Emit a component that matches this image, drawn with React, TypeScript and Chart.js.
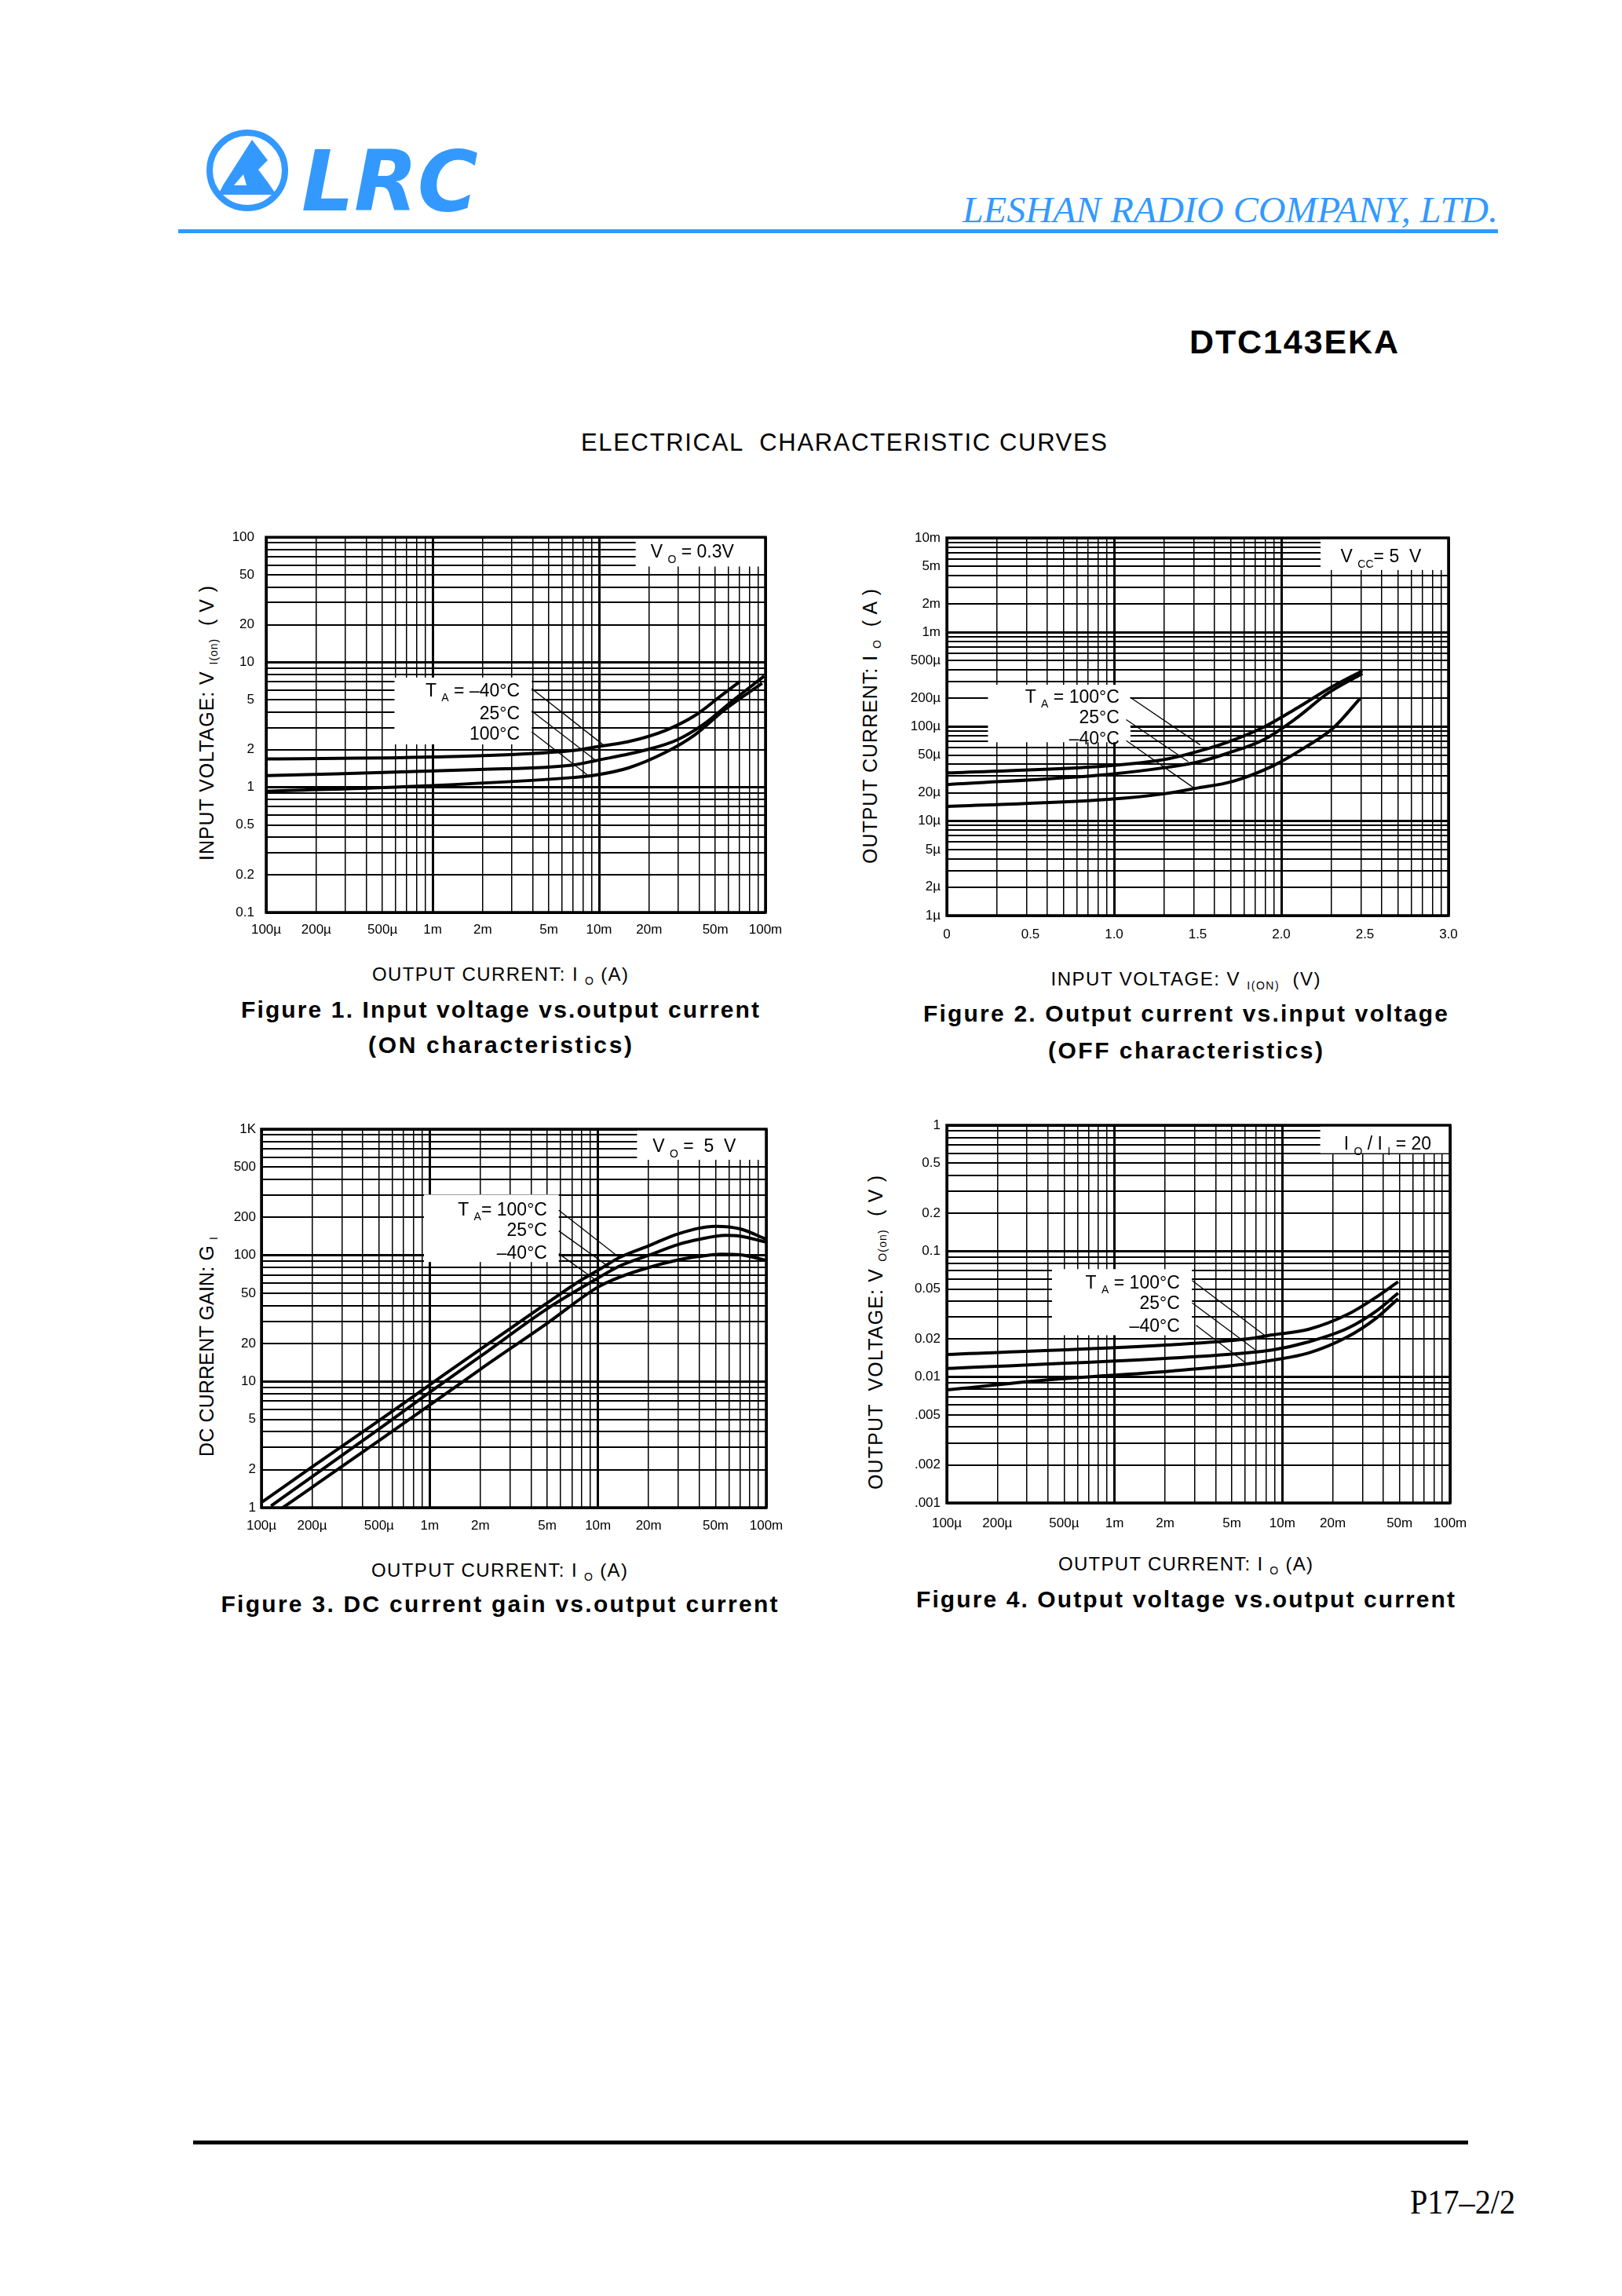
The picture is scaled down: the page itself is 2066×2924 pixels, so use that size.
import React, { useEffect, useRef } from 'react';
import { Chart, registerables } from 'chart.js';

Chart.register(...registerables);

const SANS = "'Liberation Sans', Arial, Helvetica, sans-serif";
const SERIF = "'Liberation Serif', 'Times New Roman', serif";
const BLUE = '#3399ff';

// ---------- shared tick labels ----------
const IO_TICK_VALUES = [1e-4, 2e-4, 5e-4, 1e-3, 2e-3, 5e-3, 1e-2, 2e-2, 5e-2, 1e-1];
const IO_TICK_LABELS = ['100µ', '200µ', '500µ', '1m', '2m', '5m', '10m', '20m', '50m', '100m'];

// ---------- Figure 1: input voltage vs output current ----------
const F1_Y_TICK_VALUES = [0.1, 0.2, 0.5, 1, 2, 5, 10, 20, 50, 100];
const F1_Y_TICK_LABELS = ['0.1', '0.2', '0.5', '1', '2', '5', '10', '20', '50', '100'];
const F1_M40_IO = [1e-4, 1e-3, 7e-3, 1.05e-2, 1.5e-2, 2.5e-2, 3.8e-2, 5.4e-2, 7e-2];
const F1_M40_VI = [1.69, 1.75, 1.97, 2.15, 2.32, 2.85, 3.78, 5.4, 7.0];
const F1_25_IO = [1e-4, 1.9e-3, 7e-3, 9.4e-3, 1.94e-2, 2.93e-2, 4.2e-2, 6.3e-2, 9.8e-2];
const F1_25_VI = [1.24, 1.39, 1.51, 1.63, 2.0, 2.39, 3.16, 4.89, 7.74];
const F1_100_IO = [1e-4, 9.3e-4, 7e-3, 9.4e-3, 1.5e-2, 2.5e-2, 3.78e-2, 5.7e-2, 9.55e-2];
const F1_100_VI = [0.93, 1.03, 1.2, 1.25, 1.43, 1.9, 2.64, 4.19, 6.8];
const F1_LEAD_X = [[3.94e-3, 1.05e-2], [3.94e-3, 9.4e-3], [3.94e-3, 8.5e-3]];
const F1_LEAD_Y = [[6.15, 2.21], [4.08, 1.67], [2.78, 1.26]];

// ---------- Figure 2: output current vs input voltage ----------
const F2_X_TICK_VALUES = [0, 0.5, 1.0, 1.5, 2.0, 2.5, 3.0];
const F2_X_TICK_LABELS = ['0', '0.5', '1.0', '1.5', '2.0', '2.5', '3.0'];
const F2_Y_TICK_VALUES = [1e-6, 2e-6, 5e-6, 1e-5, 2e-5, 5e-5, 1e-4, 2e-4, 5e-4, 1e-3, 2e-3, 5e-3, 1e-2];
const F2_Y_TICK_LABELS = ['1µ', '2µ', '5µ', '10µ', '20µ', '50µ', '100µ', '200µ', '500µ', '1m', '2m', '5m', '10m'];
const F2_100_VI = [0, 0.965, 1.32, 1.49, 1.68, 1.9, 2.09, 2.28, 2.485];
const F2_100_IO = [3.24e-5, 3.85e-5, 4.56e-5, 5.41e-5, 6.87e-5, 1.0e-4, 1.56e-4, 2.51e-4, 3.92e-4];
const F2_25_VI = [0, 0.965, 1.32, 1.49, 1.68, 1.9, 2.09, 2.28, 2.485];
const F2_25_IO = [2.44e-5, 3.13e-5, 3.72e-5, 4.18e-5, 5.24e-5, 7.37e-5, 1.23e-4, 2.27e-4, 3.66e-4];
const F2_M40_VI = [0, 0.965, 1.3, 1.49, 1.71, 1.95, 2.14, 2.31, 2.47];
const F2_M40_IO = [1.43e-5, 1.7e-5, 1.95e-5, 2.23e-5, 2.64e-5, 3.85e-5, 6.0e-5, 9.66e-5, 1.98e-4];
const F2_LEAD_X = [[1.096, 1.515], [1.073, 1.444], [1.073, 1.48]];
const F2_LEAD_Y = [[2.05e-4, 6.42e-5], [1.19e-4, 4.26e-5], [7.11e-5, 2.23e-5]];

// ---------- Figure 3: DC current gain vs output current ----------
const F3_Y_TICK_VALUES = [1, 2, 5, 10, 20, 50, 100, 200, 500, 1000];
const F3_Y_TICK_LABELS = ['1', '2', '5', '10', '20', '50', '100', '200', '500', '1K'];
const F3_100_IO = [1e-4, 2e-4, 5e-4, 1e-3, 2e-3, 5e-3, 8e-3, 1e-2, 1.34e-2, 2e-2, 3e-2, 5e-2, 7e-2, 1e-1];
const F3_100_GI = [1.1, 2.1, 4.9, 9.4, 18, 42, 64, 76, 96, 119, 148, 170, 162, 134];
const F3_25_IO = [1.14e-4, 2e-4, 5e-4, 1e-3, 2e-3, 5e-3, 1e-2, 1.34e-2, 2e-2, 3e-2, 4e-2, 5.7e-2, 7e-2, 1e-1];
const F3_25_GI = [1.03, 1.76, 4.2, 8.2, 15.8, 37.8, 66, 82, 100, 122, 134, 144, 142, 127];
const F3_M40_IO = [1.34e-4, 2e-4, 5e-4, 1e-3, 2e-3, 5e-3, 1e-2, 1.34e-2, 2e-2, 3e-2, 4e-2, 5.4e-2, 7e-2, 1e-1];
const F3_M40_GI = [1.0, 1.45, 3.4, 6.5, 12.5, 29, 56, 67, 80, 92, 98, 102, 101, 91];
const F3_LEAD_X = [[5.85e-3, 1.34e-2], [5.85e-3, 1.24e-2], [5.85e-3, 1.08e-2]];
const F3_LEAD_Y = [[228, 96], [156, 76], [103, 57.5]];

// ---------- Figure 4: output voltage vs output current ----------
const F4_Y_TICK_VALUES = [0.001, 0.002, 0.005, 0.01, 0.02, 0.05, 0.1, 0.2, 0.5, 1];
const F4_Y_TICK_LABELS = ['.001', '.002', '.005', '0.01', '0.02', '0.05', '0.1', '0.2', '0.5', '1'];
const F4_100_IO = [1e-4, 2.08e-3, 6.25e-3, 8.7e-3, 1.43e-2, 2.47e-2, 3.62e-2, 4.9e-2];
const F4_100_VO = [0.0151, 0.018, 0.0201, 0.0216, 0.0239, 0.0316, 0.043, 0.057];
const F4_25_IO = [1e-4, 2.08e-3, 5.9e-3, 8.7e-3, 1.43e-2, 2.47e-2, 3.62e-2, 4.9e-2];
const F4_25_VO = [0.0117, 0.0141, 0.0155, 0.0164, 0.019, 0.0245, 0.0333, 0.0464];
const F4_M40_IO = [1e-4, 4e-4, 2.08e-3, 5.9e-3, 8.7e-3, 1.43e-2, 2.47e-2, 3.62e-2, 4.9e-2];
const F4_M40_VO = [0.0079, 0.0095, 0.0111, 0.0126, 0.0136, 0.0155, 0.021, 0.0293, 0.0419];
const F4_LEAD_X = [[2.9e-3, 8.0e-3], [2.9e-3, 6.97e-3], [3.06e-3, 6.08e-3]];
const F4_LEAD_Y = [[0.0585, 0.021], [0.0388, 0.01626], [0.0258, 0.0129]];

// ---------- helpers ----------
type AxisSpec = {
  type: 'logarithmic' | 'linear';
  min: number;
  max: number;
  grid: number[];
  labelValues: number[];
  labels: string[];
  minorWidth: number;
  isMajor: (v: number) => boolean;
};

type Part = [string, boolean];
type Note = { fx: number; fy: number; align: 'left' | 'right'; parts: Part[] };

type Panel = {
  box: [number, number, number, number];
  x: AxisSpec;
  y: AxisSpec;
  xGap: number;
  yGap: number;
  curves: { x: number[]; y: number[] }[];
  leaders: { x: number[]; y: number[] }[];
  boxes: number[][];
  notes: Note[];
};

const Y_W = 90;
const PAD_T = 22;
const PAD_R = 48;
const X_H = 50;

const near = (a: number, b: number) => Math.abs(a - b) <= 1e-9 + Math.abs(b) * 1e-6;
const inList = (list: number[], v: number) => list.some((t) => near(v, t));
const isDecade = (v: number) => {
  const l = Math.log10(v);
  return Math.abs(l - Math.round(l)) < 1e-6;
};
const isInteger = (v: number) => Math.abs(v - Math.round(v)) < 1e-6;

function logGrid(min: number, max: number) {
  const out: number[] = [];
  const e0 = Math.floor(Math.log10(min) + 1e-9);
  const e1 = Math.ceil(Math.log10(max) - 1e-9);
  for (let e = e0; e <= e1; e++) {
    for (let k = 1; k < 10; k++) {
      const v = k * Math.pow(10, e);
      if (v >= min * (1 - 1e-9) && v <= max * (1 + 1e-9)) out.push(v);
    }
  }
  return out;
}

// graph-paper grid used under figure 2's linear voltage axis
function paperGrid(decades: number) {
  const out: number[] = [0];
  for (let d = 0; d < decades; d++) {
    for (let k = 2; k <= 10; k++) out.push(d + Math.log10(k));
  }
  return out;
}

function logAxis(min: number, max: number, labelValues: number[], labels: string[], minorWidth: number): AxisSpec {
  return { type: 'logarithmic', min, max, grid: logGrid(min, max), labelValues, labels, minorWidth, isMajor: isDecade };
}

function mergeTicks(a: number[], b: number[]) {
  const out = [...a];
  b.forEach((v) => {
    if (!inList(out, v)) out.push(v);
  });
  return out.sort((p, q) => p - q);
}

function scaleOptions(a: AxisSpec, gap: number, isX: boolean) {
  const all = mergeTicks(a.grid, a.labelValues);
  return {
    type: a.type,
    min: a.min,
    max: a.max,
    position: isX ? 'bottom' : 'left',
    afterBuildTicks: (s: any) => {
      s.ticks = all.map((v) => ({ value: v }));
    },
    afterFit: (s: any) => {
      if (isX) s.height = X_H;
      else s.width = Y_W;
    },
    border: { display: false },
    grid: {
      color: '#000',
      drawTicks: false,
      lineWidth: (c: any) => {
        const v = c.tick ? c.tick.value : NaN;
        if (!inList(a.grid, v)) return 0;
        return a.isMajor(v) ? 3 : a.minorWidth;
      },
    },
    ticks: {
      autoSkip: false,
      maxRotation: 0,
      minRotation: 0,
      padding: gap,
      color: '#000',
      font: { family: SANS, size: 17 },
      callback: (v: any) => {
        const n = Number(v);
        const i = a.labelValues.findIndex((t) => near(n, t));
        return i >= 0 ? a.labels[i] : '';
      },
    },
  };
}

function drawRich(ctx: CanvasRenderingContext2D, parts: Part[], x: number, yc: number, align: 'left' | 'right', size: number) {
  const main = `${size}px ${SANS}`;
  const sub = `${Math.round(size * 0.6)}px ${SANS}`;
  let w = 0;
  parts.forEach(([t, s]) => {
    ctx.font = s ? sub : main;
    w += ctx.measureText(t).width;
  });
  let cx = align === 'right' ? x - w : x;
  const base = yc + size * 0.36;
  ctx.fillStyle = '#000';
  ctx.textBaseline = 'alphabetic';
  ctx.textAlign = 'left';
  parts.forEach(([t, s]) => {
    ctx.font = s ? sub : main;
    ctx.fillText(t, cx, s ? base + size * 0.28 : base);
    cx += ctx.measureText(t).width;
  });
}

function ChartPanel({ p }: { p: Panel }) {
  const ref = useRef<HTMLCanvasElement>(null);
  const [L, T, R, B] = p.box;
  const cl = L - Y_W;
  const ct = T - PAD_T;
  const cw = R - cl + PAD_R;
  const ch = B - ct + X_H;

  useEffect(() => {
    const deco = {
      id: 'deco',
      beforeDatasetsDraw(chart: any) {
        const { ctx, chartArea: a } = chart;
        const w = a.right - a.left;
        const h = a.bottom - a.top;
        ctx.save();
        ctx.fillStyle = '#fff';
        p.boxes.forEach((b) => {
          ctx.fillRect(a.left + b[0] * w, a.top + b[1] * h, (b[2] - b[0]) * w, (b[3] - b[1]) * h);
        });
        ctx.restore();
      },
      afterDatasetsDraw(chart: any) {
        const { ctx, chartArea: a } = chart;
        const w = a.right - a.left;
        const h = a.bottom - a.top;
        ctx.save();
        ctx.strokeStyle = '#000';
        ctx.lineWidth = 3.5;
        ctx.strokeRect(a.left, a.top, w, h);
        p.notes.forEach((n) => drawRich(ctx, n.parts, a.left + n.fx * w, a.top + n.fy * h, n.align, 23));
        ctx.restore();
      },
    };

    const datasets: any[] = [];
    p.curves.forEach((c) => {
      datasets.push({
        data: c.x.map((x, i) => ({ x, y: c.y[i] })),
        borderColor: '#000',
        borderWidth: 4,
        pointRadius: 0,
        fill: false,
        cubicInterpolationMode: 'monotone',
      });
    });
    p.leaders.forEach((c) => {
      datasets.push({
        data: c.x.map((x, i) => ({ x, y: c.y[i] })),
        borderColor: '#000',
        borderWidth: 1.3,
        pointRadius: 0,
        fill: false,
        tension: 0,
      });
    });

    const chart = new Chart(ref.current as HTMLCanvasElement, {
      type: 'line',
      data: { datasets },
      options: {
        responsive: false,
        maintainAspectRatio: false,
        animation: false,
        devicePixelRatio: 1,
        layout: { padding: { left: 0, top: PAD_T, right: PAD_R, bottom: 0 } },
        plugins: { legend: { display: false }, tooltip: { enabled: false } },
        scales: {
          x: scaleOptions(p.x, p.xGap, true) as any,
          y: scaleOptions(p.y, p.yGap, false) as any,
        },
      },
      plugins: [deco],
    } as any);
    return () => chart.destroy();
  }, []);

  return (
    <canvas
      ref={ref}
      width={cw}
      height={ch}
      style={{ position: 'absolute', left: cl, top: ct, width: cw, height: ch }}
    />
  );
}

const ioAxis = () => logAxis(1e-4, 1e-1, IO_TICK_VALUES, IO_TICK_LABELS, 1.5);

const PANELS: Panel[] = [
  {
    box: [339, 681, 975, 1162],
    x: ioAxis(),
    y: logAxis(0.1, 100, F1_Y_TICK_VALUES, F1_Y_TICK_LABELS, 2),
    xGap: 12,
    yGap: 15,
    curves: [
      { x: F1_M40_IO, y: F1_M40_VI },
      { x: F1_25_IO, y: F1_25_VI },
      { x: F1_100_IO, y: F1_100_VI },
    ],
    leaders: F1_LEAD_X.map((x, i) => ({ x, y: F1_LEAD_Y[i] })),
    boxes: [
      [0.257, 0.374, 0.532, 0.552],
      [0.74, 0, 1, 0.078],
    ],
    notes: [
      { fx: 0.508, fy: 0.407, align: 'right', parts: [['T ', false], ['A', true], [' = –40°C', false]] },
      { fx: 0.508, fy: 0.467, align: 'right', parts: [['25°C', false]] },
      { fx: 0.508, fy: 0.522, align: 'right', parts: [['100°C', false]] },
      { fx: 0.77, fy: 0.037, align: 'left', parts: [['V ', false], ['O', true], [' = 0.3V', false]] },
    ],
  },
  {
    box: [1206, 685, 1845, 1166],
    x: {
      type: 'linear',
      min: 0,
      max: 3,
      grid: paperGrid(3),
      labelValues: F2_X_TICK_VALUES,
      labels: F2_X_TICK_LABELS,
      minorWidth: 1.5,
      isMajor: isInteger,
    },
    y: logAxis(1e-6, 1e-2, F2_Y_TICK_VALUES, F2_Y_TICK_LABELS, 2),
    xGap: 14,
    yGap: 8,
    curves: [
      { x: F2_100_VI, y: F2_100_IO },
      { x: F2_25_VI, y: F2_25_IO },
      { x: F2_M40_VI, y: F2_M40_IO },
    ],
    leaders: F2_LEAD_X.map((x, i) => ({ x, y: F2_LEAD_Y[i] })),
    boxes: [
      [0.082, 0.389, 0.366, 0.541],
      [0.745, 0, 1, 0.085],
    ],
    notes: [
      { fx: 0.344, fy: 0.419, align: 'right', parts: [['T ', false], ['A', true], [' = 100°C', false]] },
      { fx: 0.344, fy: 0.474, align: 'right', parts: [['25°C', false]] },
      { fx: 0.344, fy: 0.53, align: 'right', parts: [['–40°C', false]] },
      { fx: 0.785, fy: 0.048, align: 'left', parts: [['V ', false], ['CC', true], ['= 5  V', false]] },
    ],
  },
  {
    box: [333, 1438, 976, 1920],
    x: ioAxis(),
    y: logAxis(1, 1000, F3_Y_TICK_VALUES, F3_Y_TICK_LABELS, 2),
    xGap: 13,
    yGap: 7,
    curves: [
      { x: F3_100_IO, y: F3_100_GI },
      { x: F3_25_IO, y: F3_25_GI },
      { x: F3_M40_IO, y: F3_M40_GI },
    ],
    leaders: F3_LEAD_X.map((x, i) => ({ x, y: F3_LEAD_Y[i] })),
    boxes: [
      [0.322, 0.173, 0.589, 0.351],
      [0.744, 0, 1, 0.081],
    ],
    notes: [
      { fx: 0.566, fy: 0.21, align: 'right', parts: [['T ', false], ['A', true], ['= 100°C', false]] },
      { fx: 0.566, fy: 0.266, align: 'right', parts: [['25°C', false]] },
      { fx: 0.566, fy: 0.325, align: 'right', parts: [['–40°C', false]] },
      { fx: 0.775, fy: 0.044, align: 'left', parts: [['V ', false], ['O', true], [' =  5  V', false]] },
    ],
  },
  {
    box: [1206, 1433, 1847, 1914],
    x: ioAxis(),
    y: logAxis(0.001, 1, F4_Y_TICK_VALUES, F4_Y_TICK_LABELS, 2),
    xGap: 16,
    yGap: 8,
    curves: [
      { x: F4_100_IO, y: F4_100_VO },
      { x: F4_25_IO, y: F4_25_VO },
      { x: F4_M40_IO, y: F4_M40_VO },
    ],
    leaders: F4_LEAD_X.map((x, i) => ({ x, y: F4_LEAD_Y[i] })),
    boxes: [
      [0.209, 0.381, 0.487, 0.556],
      [0.742, 0, 1, 0.074],
    ],
    notes: [
      { fx: 0.463, fy: 0.415, align: 'right', parts: [['T ', false], ['A', true], [' = 100°C', false]] },
      { fx: 0.463, fy: 0.47, align: 'right', parts: [['25°C', false]] },
      { fx: 0.463, fy: 0.53, align: 'right', parts: [['–40°C', false]] },
      { fx: 0.789, fy: 0.048, align: 'left', parts: [['I ', false], ['O', true], [' / I ', false], ['I', true], [' = 20', false]] },
    ],
  },
];

function XTitle({ cx, y, len, main, sub, tail }: { cx: number; y: number; len: number; main: string; sub: string; tail: string }) {
  return (
    <text x={cx} y={y} textAnchor="middle" fontFamily={SANS} fontSize={24} fill="#000" textLength={len} lengthAdjust="spacing" style={{ whiteSpace: 'pre' }}>
      {main}
      <tspan fontSize={14} dy={5}>{sub}</tspan>
      <tspan dy={-5}>{tail}</tspan>
    </text>
  );
}

function YTitle({ cx, cy, len, main, sub, tail }: { cx: number; cy: number; len: number; main: string; sub: string; tail: string }) {
  return (
    <text x={cx} y={cy + 9} transform={`rotate(-90 ${cx} ${cy})`} textAnchor="middle" fontFamily={SANS} fontSize={25} fill="#000" textLength={len} lengthAdjust="spacing" style={{ whiteSpace: 'pre' }}>
      {main}
      <tspan fontSize={14} dy={5}>{sub}</tspan>
      <tspan dy={-5}>{tail}</tspan>
    </text>
  );
}

function Caption({ cx, y, len, text }: { cx: number; y: number; len: number; text: string }) {
  return (
    <text x={cx} y={y} textAnchor="middle" fontFamily={SANS} fontWeight="bold" fontSize={30} fill="#000" textLength={len} lengthAdjust="spacing">
      {text}
    </text>
  );
}

export default function App() {
  return (
    <div style={{ position: 'absolute', left: 0, top: 0, width: 2066, height: 2924, background: '#fff', overflow: 'hidden' }}>
      <svg width={2066} height={2924} style={{ position: 'absolute', left: 0, top: 0 }}>
        {/* logo */}
        <circle cx={315} cy={217} r={48} fill="none" stroke={BLUE} strokeWidth={8} />
        <path d="M321 178 L341 204 L329 216 L341 232 L352 248 L278 248 L284 236 Z" fill={BLUE} />
        <path d="M298 236 L310 222 L314 236 Z" fill="#fff" />
        <text x={384} y={268} fontFamily="'DejaVu Sans', sans-serif" fontWeight="bold" fontStyle="italic" fontSize={107} fill={BLUE} textLength={225} lengthAdjust="spacingAndGlyphs">
          LRC
        </text>
        <text x={1226} y={283} fontFamily={SERIF} fontStyle="italic" fontSize={47} fill={BLUE} textLength={682} lengthAdjust="spacingAndGlyphs">
          LESHAN RADIO COMPANY, LTD.
        </text>
        <rect x={227} y={292} width={1681} height={5} fill={BLUE} />

        <text x={1515} y={450} fontFamily={SANS} fontWeight="bold" fontSize={43} fill="#000" textLength={266} lengthAdjust="spacing">
          DTC143EKA
        </text>
        <text x={740} y={574} fontFamily={SANS} fontSize={31} fill="#000" textLength={670} lengthAdjust="spacing" style={{ whiteSpace: 'pre' }}>
          {'ELECTRICAL  CHARACTERISTIC CURVES'}
        </text>

        {/* figure 1 texts */}
        <YTitle cx={263} cy={921} len={350} main="INPUT VOLTAGE: V " sub="I(on)" tail="  ( V )" />
        <XTitle cx={637} y={1249} len={326} main="OUTPUT CURRENT: I " sub="O" tail=" (A)" />
        <Caption cx={637} y={1296} len={660} text="Figure 1. Input voltage vs.output current" />
        <Caption cx={637} y={1341} len={336} text="(ON characteristics)" />

        {/* figure 2 texts */}
        <YTitle cx={1108} cy={925} len={350} main="OUTPUT CURRENT: I " sub="O" tail="  ( A )" />
        <XTitle cx={1510} y={1255} len={343} main="INPUT VOLTAGE: V " sub="I(ON)" tail="  (V)" />
        <Caption cx={1510} y={1301} len={668} text="Figure 2. Output current vs.input voltage" />
        <Caption cx={1510} y={1348} len={350} text="(OFF characteristics)" />

        {/* figure 3 texts */}
        <YTitle cx={263} cy={1715} len={280} main="DC CURRENT GAIN: G " sub="I" tail="" />
        <XTitle cx={636} y={2008} len={326} main="OUTPUT CURRENT: I " sub="O" tail=" (A)" />
        <Caption cx={636} y={2053} len={709} text="Figure 3. DC current gain vs.output current" />

        {/* figure 4 texts */}
        <YTitle cx={1115} cy={1697} len={400} main="OUTPUT  VOLTAGE: V " sub="O(on)" tail="  ( V )" />
        <XTitle cx={1510} y={2000} len={324} main="OUTPUT CURRENT: I " sub="O" tail=" (A)" />
        <Caption cx={1510} y={2047} len={686} text="Figure 4. Output voltage vs.output current" />

        {/* footer */}
        <rect x={246} y={2726} width={1624} height={5} fill="#000" />
        <text x={1796} y={2819} fontFamily={SERIF} fontSize={44} fill="#000" textLength={134} lengthAdjust="spacingAndGlyphs">
          P17–2/2
        </text>
      </svg>
      {PANELS.map((p, i) => (
        <ChartPanel key={i} p={p} />
      ))}
    </div>
  );
}
